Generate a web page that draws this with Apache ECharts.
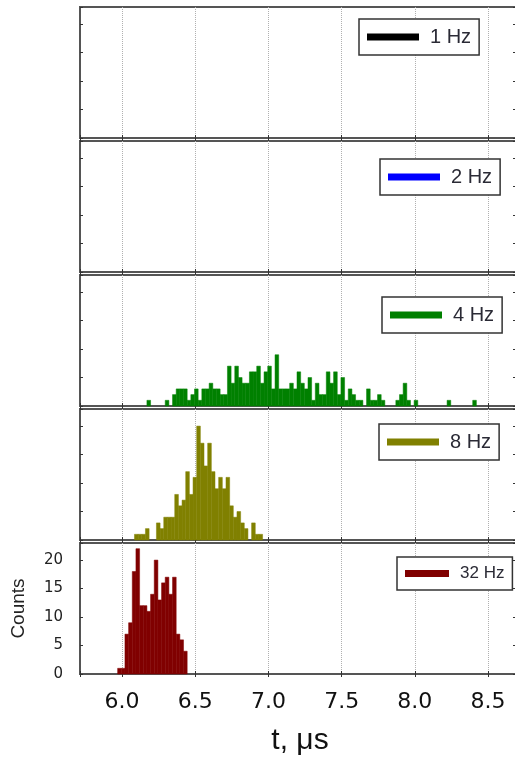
<!DOCTYPE html>
<html>
<head>
<meta charset="utf-8">
<title>Histograms by rate</title>
<script src="https://cdn.jsdelivr.net/npm/echarts@6/dist/echarts.min.js"></script>
<style>
  html, body { margin: 0; padding: 0; background: #fff; overflow: hidden; }
  #main { width: 515px; height: 757px; }
</style>
</head>
<body>
<div id="main"></div>
<script>
// panels, top to bottom
var rates = ['1 Hz', '2 Hz', '4 Hz', '8 Hz', '32 Hz'];

// histogram bins: width (µs) and left edge of first bin for each panel
var binWidth = 0.025;
var binStart = [6.0, 6.0, 6.17, 6.085, 5.97];

// counts per bin
var counts1Hz = [];
var counts2Hz = [];
var counts4Hz = [1, 0, 0, 0, 0, 1, 0, 2, 3, 3,
                 3, 1, 2, 3, 1, 3, 3, 4, 3, 3,
                 2, 2, 7, 4, 7, 5, 4, 4, 6, 6,
                 7, 4, 6, 7, 3, 9, 3, 3, 3, 4,
                 3, 6, 4, 3, 5, 1, 4, 2, 2, 6,
                 4, 6, 2, 5, 1, 3, 2, 1, 1, 0,
                 3, 1, 1, 2, 1, 0, 0, 0, 1, 2,
                 4, 1, 0, 1, 0, 0, 0, 0, 0, 0,
                 0, 0, 1, 0, 0, 0, 0, 0, 0, 1];
var counts8Hz = [1, 1, 1, 2, 0, 0, 3, 2, 4, 4, 4, 8, 6, 7, 12, 8, 11, 20,
                 17, 13, 17, 12, 9, 11, 9, 11, 6, 4, 5, 3, 2, 0, 3, 1, 1];
var counts32Hz = [1, 1, 7, 9, 18, 22, 12, 12, 11, 14, 20, 13, 16, 17, 14, 17, 7, 6, 4];

var xTickLabels = [6.0, 6.5, 7.0, 7.5, 8.0, 8.5];
var yTickLabels = [0, 5, 10, 15, 20];

var allCounts = [counts1Hz, counts2Hz, counts4Hz, counts8Hz, counts32Hz];

// look
var fills = ['#000000', '#0000ff', '#008000', '#808000', '#800000'];
var legendPos = [[359, 19], [380, 159], [382, 297], [379, 424], [397, 557]];
var legendFont = [20, 20, 20, 20, 17];
var legendLine = [52, 52, 52, 52, 44];
var gridTop = [7, 141, 275, 409, 543];
var gridHeight = 131;
var xMin = 5.713, xMax = 8.718;
var yMax = 23;
var frameColor = '#555';

var chart = echarts.init(document.getElementById('main'), null, { renderer: 'canvas' });

function renderBin(params, api) {
    var x0 = api.value(0);
    var c = api.value(1);
    var p0 = api.coord([x0, c]);
    var p1 = api.coord([x0 + binWidth, 0]);
    var col = fills[params.seriesIndex];
    return {
        type: 'rect',
        shape: { x: p0[0], y: p0[1], width: p1[0] - p0[0], height: p1[1] - p0[1] },
        style: { fill: col, stroke: col, lineWidth: 0.5 }
    };
}

var grids = [], xAxes = [], yAxes = [], series = [], legends = [];

rates.forEach(function (name, i) {
    var last = i === rates.length - 1;
    grids.push({
        left: 80, width: 440, top: gridTop[i], height: gridHeight,
        outerBoundsMode: 'none', containLabel: false,
        show: true, borderColor: frameColor, borderWidth: 2, backgroundColor: '#fff'
    });

    // bottom x axis
    xAxes.push({
        type: 'value', gridIndex: i, position: 'bottom',
        min: xMin, max: xMax, minInterval: 0.5, maxInterval: 0.5,
        axisLine: { show: true, lineStyle: { color: frameColor, width: 2 } },
        axisTick: { show: true, inside: true, length: 3, lineStyle: { color: '#333' } },
        splitLine: { show: true, lineStyle: { color: '#b0b0b0', type: 'dotted', width: 1 } },
        axisLabel: {
            show: last, margin: 17, color: '#111', fontSize: 22, fontFamily: 'DejaVu Sans',
            formatter: function (v) {
                for (var k = 0; k < xTickLabels.length; k++) {
                    if (Math.abs(v - xTickLabels[k]) < 1e-6) return xTickLabels[k].toFixed(1);
                }
                return '';
            }
        },
        name: last ? 't, \u03bcs' : '',
        nameLocation: 'middle', nameGap: 52,
        nameTextStyle: { fontSize: 30, color: '#111', fontFamily: 'Liberation Sans' }
    });
    // top x axis (ticks only)
    xAxes.push({
        type: 'value', gridIndex: i, position: 'top',
        min: xMin, max: xMax, minInterval: 0.5, maxInterval: 0.5,
        axisLine: { show: true, lineStyle: { color: frameColor, width: 2 } },
        axisTick: { show: true, inside: true, length: 3, lineStyle: { color: '#333' } },
        splitLine: { show: false },
        axisLabel: { show: false }
    });

    // left y axis
    yAxes.push({
        type: 'value', gridIndex: i, position: 'left',
        min: 0, max: yMax, interval: 5,
        axisLine: { show: true, lineStyle: { color: frameColor, width: 2 } },
        axisTick: { show: true, inside: true, length: 3, lineStyle: { color: '#333' } },
        splitLine: { show: false },
        axisLabel: {
            show: last, margin: 17, color: '#222', fontSize: 15, fontFamily: 'DejaVu Sans',
            formatter: function (v) { return yTickLabels.indexOf(v) >= 0 ? String(v) : ''; }
        },
        name: last ? 'Counts' : '',
        nameLocation: 'middle', nameGap: 52,
        nameTextStyle: { fontSize: 19, color: '#222', fontFamily: 'Liberation Sans' }
    });
    // right y axis (ticks only)
    yAxes.push({
        type: 'value', gridIndex: i, position: 'right',
        min: 0, max: yMax, interval: 5,
        axisLine: { show: true, lineStyle: { color: frameColor, width: 2 } },
        axisTick: { show: true, inside: true, length: 7, lineStyle: { color: '#333' } },
        splitLine: { show: false },
        axisLabel: { show: false }
    });

    var counts = allCounts[i];
    var data = [];
    counts.forEach(function (c, k) {
        if (c > 0) data.push([binStart[i] + k * binWidth, c]);
    });

    series.push({
        name: name, type: 'custom',
        xAxisIndex: 2 * i, yAxisIndex: 2 * i,
        itemStyle: { color: fills[i] },
        encode: { x: 0, y: 1 },
        renderItem: renderBin,
        data: data
    });

    legends.push({
        data: [{ name: name, icon: 'rect' }],
        left: legendPos[i][0], top: legendPos[i][1],
        orient: 'horizontal', selectedMode: false,
        itemWidth: legendLine[i], itemHeight: 7,
        padding: [8, 8, 8, 8],
        backgroundColor: '#fff', borderColor: '#333', borderWidth: 1.5,
        textStyle: { fontSize: legendFont[i], color: '#2a2a35', fontFamily: 'Liberation Sans', padding: [0, 0, 0, 6] }
    });
});

chart.setOption({
    animation: false,
    backgroundColor: '#fff',
    grid: grids,
    xAxis: xAxes,
    yAxis: yAxes,
    legend: legends,
    series: series
});
</script>
</body>
</html>
